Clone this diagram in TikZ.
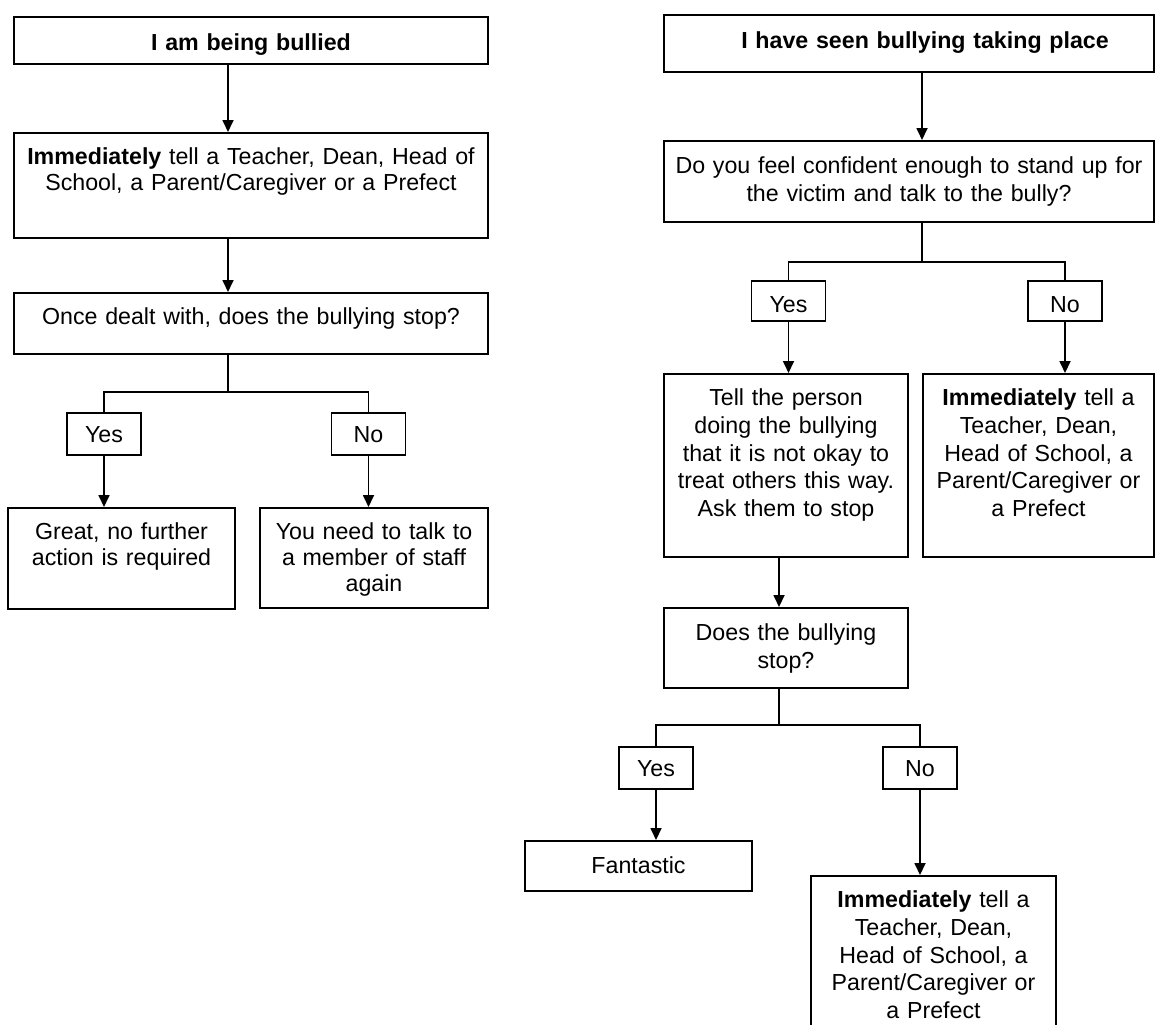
\documentclass[tikz,border=0pt]{standalone}
\usepackage{fontspec}
\setmainfont{Liberation Sans}
\usetikzlibrary{arrows.meta}

\begin{document}
\begin{tikzpicture}[
    x = 0.5pt,
    y = -0.5pt,
    line width = 0.85pt,
    >={Triangle[width = 5.5pt, length = 6pt]},
    stage/.style = {draw,
      anchor = north,
      align = center,
      inner xsep = 2pt,
      inner ysep = 0pt,
      font = \fontsize{11.6pt}{12.8pt}\selectfont},
    loose/.style = {font = \fontsize{11.6pt}{13.8pt}\selectfont},
    title/.style = {font = \bfseries\fontsize{11.6pt}{12.8pt}\selectfont},
    answer/.style = {text width = 33pt,
      text height = 14.6pt,
      text depth = 6.4pt},
    ]

    \useasboundingbox (0, 0) rectangle (1155, 1024);

    \coordinate (lstem) at (228, 0);
    \coordinate (rstem) at (922, 0);
    \coordinate (dstem) at (779, 0);

    % left column
    \node at (251, 16)
    [stage, title, name = L1, text width = 233pt,
      text height = 17pt, text depth = 6.5pt] {I am being bullied};
    \node at (251, 132)
    [stage, name = L2, text width = 233pt,
      text height = 16pt, text depth = 36.5pt]
    {\textbf{Immediately} tell a Teacher, Dean, Head of\\
      School, a Parent/Caregiver or a Prefect};
    \node at (251, 292)
    [stage, name = L3, text width = 233pt,
      text height = 16pt, text depth = 14.5pt]
    {Once dealt with, does the bullying stop?};

    \node at (104, 412) [stage, answer, name = LY] {Yes};
    \node at (368.5, 412) [stage, answer, name = LN] {No};

    \node at (121.5, 507)
    [stage, name = LG, text width = 109.5pt,
      text height = 16pt, text depth = 34.5pt]
    {Great, no further\\ action is required};
    \node at (374, 507)
    [stage, name = LT, text width = 110pt,
      text height = 16pt, text depth = 34pt]
    {You need to talk to\\ a member of staff\\ again};

    \draw [->] (L1.south -| lstem) to (L2.north -| lstem);
    \draw [->] (L2.south -| lstem) to (L3.north -| lstem);
    \draw (L3.south -| lstem) -- +(0, 37) coordinate (lfork);
    \draw (LY.north) |- (lfork) -| (LN.north);
    \draw [->] (LY.south) to (LY.south |- LG.north);
    \draw [->] (LN.south) to (LN.south |- LT.north);

    % right column
    \node at (909, 14)
    [stage, title, name = R1, text width = 241pt,
      text height = 17pt, text depth = 11.5pt]
    {\hspace*{16pt}I have seen bullying taking place};
    \node at (909, 140)
    [stage, loose, name = R2, text width = 241pt,
      text height = 16.5pt, text depth = 24pt]
    {Do you feel confident enough to stand up for\\
      the victim and talk to the bully?};

    \node at (788.5, 280)
    [stage, answer, name = RY, text height = 16pt, text depth = 4pt] {Yes};
    \node at (1065, 280)
    [stage, answer, name = RN, text height = 16pt, text depth = 4pt] {No};

    \node at (786, 373)
    [stage, loose, name = RT, text width = 118pt,
      text height = 16pt, text depth = 75.5pt]
    {Tell the person\\ doing the bullying\\ that it is not okay to\\
      treat others this way.\\ Ask them to stop};
    \node at (1038.5, 373)
    [stage, loose, name = RI, text width = 111.5pt,
      text height = 16pt, text depth = 75.5pt]
    {\textbf{Immediately} tell a\\ Teacher, Dean,\\ Head of School, a\\
      Parent/Caregiver or\\ a Prefect};

    \node at (786, 607)
    [stage, loose, name = RD, text width = 118pt,
      text height = 16.5pt, text depth = 23.5pt]
    {Does the bullying\\ stop?};

    \node at (656, 746) [stage, answer, name = RY2] {Yes};
    \node at (920, 746) [stage, answer, name = RN2] {No};

    \node at (638.5, 840)
    [stage, name = RF, text width = 109.5pt,
      text height = 16.5pt, text depth = 8.5pt] {Fantastic};
    \node at (933.5, 875)
    [stage, loose, name = RJ, text width = 118.5pt,
      text height = 16pt, text depth = 62pt]
    {\textbf{Immediately} tell a\\ Teacher, Dean,\\ Head of School, a\\
      Parent/Caregiver or\\ a Prefect};

    \draw [->] (R1.south -| rstem) to (R2.north -| rstem);
    \draw (R2.south -| rstem) -- +(0, 39) coordinate (rfork);
    \draw (RY.north) |- (rfork) -| (RN.north);
    \draw [->] (RY.south) to (RY.south |- RT.north);
    \draw [->] (RN.south) to (RN.south |- RI.north);

    \draw [->] (RT.south -| dstem) to (RD.north -| dstem);
    \draw (RD.south -| dstem) -- +(0, 36) coordinate (dfork);
    \draw (RY2.north) |- (dfork) -| (RN2.north);
    \draw [->] (RY2.south) to (RY2.south |- RF.north);
    \draw [->] (RN2.south) to (RN2.south |- RJ.north);

  \end{tikzpicture}
\end{document}
